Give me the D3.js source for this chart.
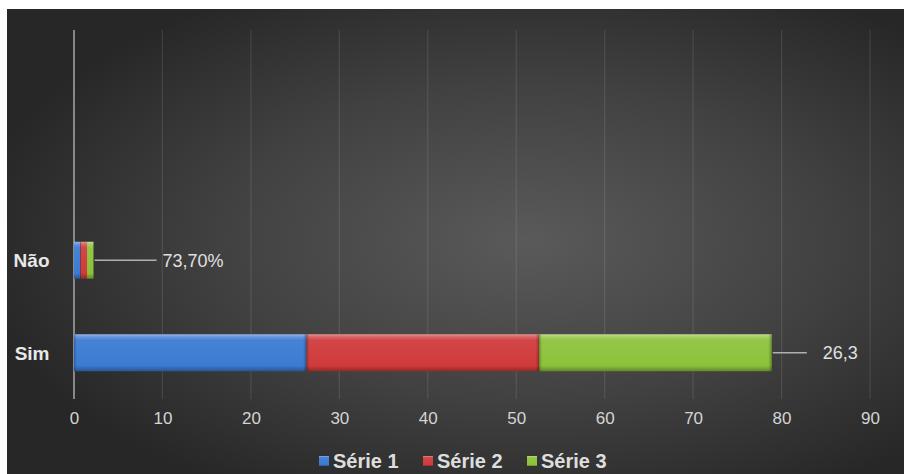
<!DOCTYPE html>
<html>
<head>
<meta charset="utf-8">
<script src="https://cdnjs.cloudflare.com/ajax/libs/d3/7.8.5/d3.min.js"></script>
<style>
  html, body { margin: 0; padding: 0; background: #ffffff; }
  svg { display: block; font-family: "Liberation Sans", Arial, sans-serif; }
</style>
</head>
<body>
<svg id="chart" width="904" height="474"></svg>
<script>
// ---- data ----
const categories = ["Não", "Sim"];
const seriesNames = ["Série 1", "Série 2", "Série 3"];
const serie1 = [0.737, 26.3];
const serie2 = [0.737, 26.3];
const serie3 = [0.737, 26.3];
const dataLabels = ["73,70%", "26,3"];
const xTicks = [0, 10, 20, 30, 40, 50, 60, 70, 80, 90];
const seriesColors = ["#3a7bd2", "#d03a3b", "#8cc23a"];

const svg = d3.select("#chart");
const W = 904, H = 474;

// ---- defs ----
const defs = svg.append("defs");
const bg = defs.append("radialGradient").attr("id", "bg")
  .attr("cx", "0.58").attr("cy", "0.5").attr("r", "0.62");
bg.append("stop").attr("offset", "0").attr("stop-color", "#5a5a5a");
bg.append("stop").attr("offset", "0.55").attr("stop-color", "#414141");
bg.append("stop").attr("offset", "1").attr("stop-color", "#272727");

seriesColors.forEach((c, i) => {
  const base = d3.color(c);
  const g = defs.append("linearGradient").attr("id", "bar" + i)
    .attr("x1", 0).attr("y1", 0).attr("x2", 0).attr("y2", 1);
  g.append("stop").attr("offset", "0").attr("stop-color", d3.interpolateRgb(c, "#ffffff")(0.45));
  g.append("stop").attr("offset", "0.08").attr("stop-color", d3.interpolateRgb(c, "#ffffff")(0.2));
  g.append("stop").attr("offset", "0.16").attr("stop-color", d3.interpolateRgb(c, "#ffffff")(0.06));
  g.append("stop").attr("offset", "0.85").attr("stop-color", c);
  g.append("stop").attr("offset", "1").attr("stop-color", base.darker(1).formatHex());
  const h = defs.append("linearGradient").attr("id", "side" + i)
    .attr("x1", 0).attr("y1", 0).attr("x2", 1).attr("y2", 0);
  h.append("stop").attr("offset", "0").attr("stop-color", "#000").attr("stop-opacity", 0.25);
  h.append("stop").attr("offset", "0.012").attr("stop-color", "#000").attr("stop-opacity", 0);
  h.append("stop").attr("offset", "0.985").attr("stop-color", "#000").attr("stop-opacity", 0);
  h.append("stop").attr("offset", "1").attr("stop-color", "#000").attr("stop-opacity", 0.3);
});

// background
svg.append("rect").attr("x", 7).attr("y", 9).attr("width", W - 7).attr("height", H - 9)
  .attr("fill", "url(#bg)");

// ---- scales ----
const plotTop = 30, plotBottom = 399;
const x = d3.scaleLinear().domain([0, 90]).range([74, 870]);
const y = d3.scaleBand().domain(categories).range([214, plotBottom])
  .paddingInner(0.6).paddingOuter(0.3);

// gridlines
svg.append("g").selectAll("line").data(xTicks.slice(1)).join("line")
  .attr("x1", d => x(d)).attr("x2", d => x(d))
  .attr("y1", plotTop).attr("y2", plotBottom)
  .attr("stroke", "#ffffff").attr("stroke-opacity", 0.1).attr("stroke-width", 1.2);

// y axis line
svg.append("line").attr("x1", x(0)).attr("x2", x(0))
  .attr("y1", plotTop).attr("y2", plotBottom)
  .attr("stroke", "#a0a0a0").attr("stroke-width", 1.6);

// x tick labels
const xAxis = svg.append("g").attr("transform", `translate(0,${plotBottom})`)
  .call(d3.axisBottom(x).tickValues(xTicks).tickSize(0).tickPadding(13).tickFormat(d3.format("d")));
xAxis.select(".domain").remove();
xAxis.selectAll("text").attr("fill", "#d4d4d4").style("font-size", "17px")
  .attr("font-family", "'Liberation Sans', Arial, sans-serif");

// y category labels
const yAxis = svg.append("g").attr("transform", "translate(49.5,0)")
  .call(d3.axisLeft(y).tickSize(0).tickPadding(0));
yAxis.select(".domain").remove();
yAxis.selectAll("text").attr("fill", "#e8e8e8").style("font-size", "19px")
  .style("font-weight", "bold").attr("font-family", "'Liberation Sans', Arial, sans-serif")
  .attr("dy", "0.36em");

// ---- stacked bars ----
const rows = categories.map((c, i) => ({ cat: c, "Série 1": serie1[i], "Série 2": serie2[i], "Série 3": serie3[i] }));
const stacked = d3.stack().keys(seriesNames)(rows);

stacked.forEach((layer, si) => {
  const g = svg.append("g");
  g.selectAll("rect.b").data(layer).join("rect").attr("class", "b")
    .attr("x", d => x(d[0])).attr("width", d => x(d[1]) - x(d[0]))
    .attr("y", d => y(d.data.cat)).attr("height", y.bandwidth())
    .attr("fill", `url(#bar${si})`);
  g.selectAll("rect.s").data(layer).join("rect").attr("class", "s")
    .attr("x", d => x(d[0])).attr("width", d => x(d[1]) - x(d[0]))
    .attr("y", d => y(d.data.cat)).attr("height", y.bandwidth())
    .attr("fill", `url(#side${si})`);
});

// ---- data labels with leader lines ----
const totals = categories.map((c, i) => serie1[i] + serie2[i] + serie3[i]);
const labelGap = [62, 34];
const labelG = svg.append("g");
categories.forEach((c, i) => {
  const x0 = x(totals[i]) + 1;
  const yc = y(c) + y.bandwidth() / 2;
  labelG.append("line").attr("x1", x0).attr("x2", x0 + labelGap[i])
    .attr("y1", yc).attr("y2", yc).attr("stroke", "#b0b0b0").attr("stroke-width", 1.3);
  labelG.append("text").attr("x", x0 + labelGap[i] + (i === 0 ? 6 : 16)).attr("y", yc)
    .attr("dy", "0.36em").attr("fill", "#e0e0e0").style("font-size", "18px")
    .text(dataLabels[i]);
});

// ---- legend ----
const legend = svg.append("g").attr("transform", "translate(319,461)");
const item = legend.selectAll("g").data(seriesNames).join("g")
  .attr("transform", (d, i) => `translate(${i * 104},0)`);
item.append("rect").attr("x", 0).attr("y", -5).attr("width", 10).attr("height", 10)
  .attr("fill", (d, i) => `url(#bar${i})`);
item.append("text").attr("x", 14).attr("y", 0).attr("dy", "0.36em")
  .attr("fill", "#dedede").style("font-size", "20px").style("font-weight", "bold")
  .text(d => d);
</script>
</body>
</html>
